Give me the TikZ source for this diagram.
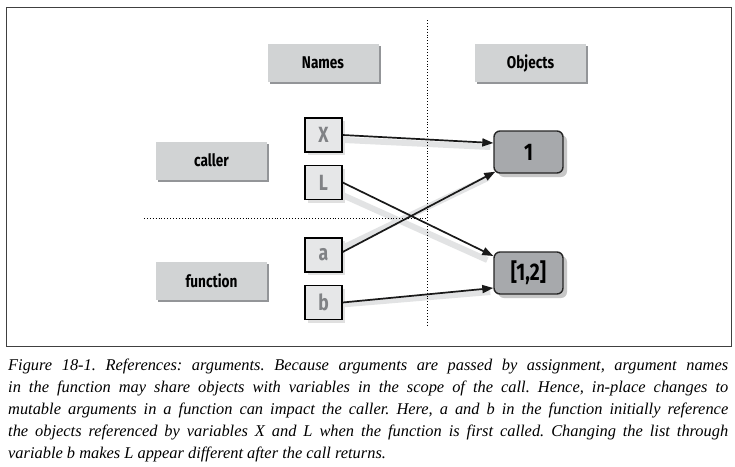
\documentclass[tikz,border=0pt]{standalone}
\usepackage{fontspec}
\setmainfont{Liberation Serif}
\newfontfamily\cond[FakeStretch=0.8]{Fira Sans}
\usetikzlibrary{arrows.meta,calc,shadows}
\definecolor{lblfill}{HTML}{D1D3D4}
\definecolor{lblshadow}{HTML}{939598}
\definecolor{namefill}{HTML}{E6E7E8}
\definecolor{nametext}{HTML}{808285}
\definecolor{objfill}{HTML}{A7A9AC}
\definecolor{arrowshadow}{HTML}{E2E3E4}
\tikzset{
  lbl/.style={fill=lblfill, minimum width=111pt, minimum height=38pt, inner sep=0pt,
    font=\cond\bfseries\fontsize{17}{17}\selectfont,
    drop shadow={shadow xshift=2pt, shadow yshift=-2pt, fill=lblshadow, opacity=1}},
  namebox/.style={draw=black, line width=1.3pt, fill=namefill, minimum width=37pt,
    minimum height=34pt, inner sep=0pt, text=nametext,
    font=\cond\bfseries\fontsize{22}{22}\selectfont,
    drop shadow={shadow xshift=3pt, shadow yshift=-3pt, fill=black!12, opacity=1}},
  objbox/.style={draw=black!85, line width=1.4pt, rounded corners=6pt, fill=objfill,
    minimum width=69pt, minimum height=42pt, inner sep=0pt,
    font=\cond\bfseries\fontsize{24}{24}\selectfont,
    drop shadow={shadow xshift=4pt, shadow yshift=-4pt, fill=black!22, opacity=1}},
  arr/.style={line width=1.7pt, draw=black!90, -{Triangle[length=11pt,width=8pt]}},
  ashadow/.style={line width=6pt, draw=arrowshadow},
  sep/.style={dotted, line width=0.9pt}
}
\begin{document}
\begin{tikzpicture}[x=1pt,y=-1pt]
\useasboundingbox (0,0) rectangle (735,466);
\fill[white] (0,0) rectangle (735,466);
\draw[line width=0.8pt, black!75] (6,7) rectangle (731,346);

% separators
\coordinate (vtop) at (427,20);
\coordinate (vbot) at (427,326);
\coordinate (hleft) at (144,218);
\coordinate (hright) at (427,218);

% nodes
\node[lbl] (names) at (323,63) {Names};
\node[lbl] (objects) at (530.5,63) {Objects};
\node[lbl] (caller) at (211.5,160.5) {caller};
\node[lbl] (function) at (211.5,281) {function};

\node[objbox] (one) at (528.5,152) {1};
\node[objbox] (list) at (528.5,273) {[1,2]};

% arrow shadows
\draw[ashadow] ($(323.5,135)+(0,4)$) -- ($(one.west)+(-3,-5)$);
\draw[ashadow] ($(323.5,182.5)+(0,4)$) -- ($(list.west)+(-6,-13)$);
\draw[ashadow] ($(323.5,252)+(0,5)$) -- ($(one.south west)+(-5,4)$);
\draw[ashadow] ($(323.5,302)+(0,4)$) -- ($(list.west)+(-3,19)$);

\draw[sep] (vtop) -- (vbot);
\draw[sep] (hleft) -- (hright);

\node[namebox] (X) at (323.5,135) {X};
\node[namebox] (L) at (323.5,182.5) {L};
\node[namebox] (a) at (323.5,255) {a};
\node[namebox] (b) at (323.5,302.5) {b};

% arrows
\draw[arr] (X.east) -- ($(one.west)+(0,-9)$);
\draw[arr] (L.east) -- ($(list.west)+(0,-17)$);
\draw[arr] ($(a.east)+(0,-3)$) -- ($(one.south west)+(2,-2)$);
\draw[arr] (b.east) -- ($(list.west)+(0,15)$);

% caption
\node[anchor=north west, inner sep=0pt, text width=720pt, align=justify,
      font=\itshape\fontsize{16.4}{22}\selectfont] (caption) at (8,359)
{\frenchspacing Figure 18-1. References: arguments. Because arguments are passed by assignment, argument names\linebreak
in the function may share objects with variables in the scope of the call. Hence, in-place changes to\linebreak
mutable arguments in a function can impact the caller. Here, a and b in the function initially reference\linebreak
the objects referenced by variables X and L when the function is first called. Changing the list through\linebreak
variable b makes L appear different after the call returns.};
\end{tikzpicture}
\end{document}
